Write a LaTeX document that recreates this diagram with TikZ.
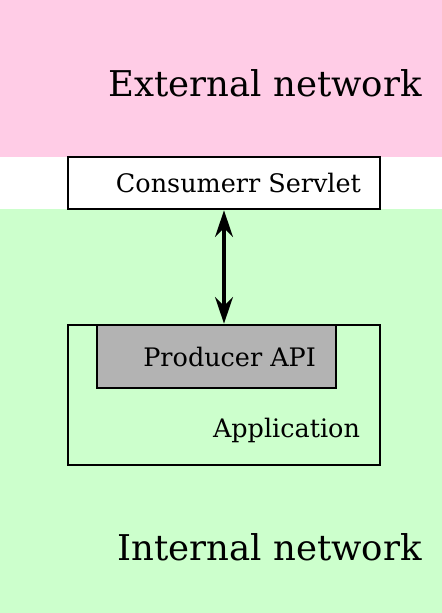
\documentclass[tikz,border=0pt]{standalone}
\usepackage{fontspec}
\setmainfont{DejaVu Serif}
\usetikzlibrary{arrows.meta, positioning, calc}
\definecolor{extcol}{RGB}{255,204,230}
\definecolor{intcol}{RGB}{204,255,204}
\definecolor{apicol}{RGB}{179,179,179}
\tikzset{
  box/.style={draw=black, line width=1.5pt, inner sep=0pt},
  boxtext/.style={font=\fontsize{14.5}{17}\selectfont, anchor=east, inner sep=0pt},
  zonetext/.style={font=\fontsize{20.2}{24}\selectfont, anchor=east, inner sep=0pt}
}

\begin{document}
\begin{tikzpicture}[x=0.02cm,y=-0.02cm]

% ── Network zones ────────────────────────────────────────────────────────────
\useasboundingbox (0,0) rectangle (442,613);
\fill[extcol] (0,0) rectangle (442,157);
\fill[intcol] (0,209) rectangle (442,613);
\node[zonetext] (extlbl) at (422,83) {External network};
\node[zonetext] (intlbl) at (422,547) {Internal network};

% ── Boxes ────────────────────────────────────────────────────────────────────
\node[box, fill=white, minimum width=6.24cm, minimum height=1.04cm]
     (servlet) at (224,183) {};
\node[boxtext] (servletlbl) at ([xshift=-0.4cm]servlet.east) {Consumerr Servlet};

\node[box, minimum width=6.24cm, minimum height=2.8cm]
     (app) at (224,395) {};
\node[boxtext] (applbl) at ([xshift=-0.42cm]app.east |- 0,430) {Application};

\node[box, fill=apicol, minimum width=4.78cm, minimum height=1.26cm]
     (producer) at (216.5,356.5) {};
\node[boxtext] (producerlbl) at ([xshift=-0.42cm]producer.east) {Producer API};

% Link between servlet and API
\draw[{Stealth[length=15pt,width=10pt]}-{Stealth[length=15pt,width=10pt]}, line width=2.6pt]
     (servlet.south) -- (servlet.south |- producer.north);

\end{tikzpicture}
\end{document}
